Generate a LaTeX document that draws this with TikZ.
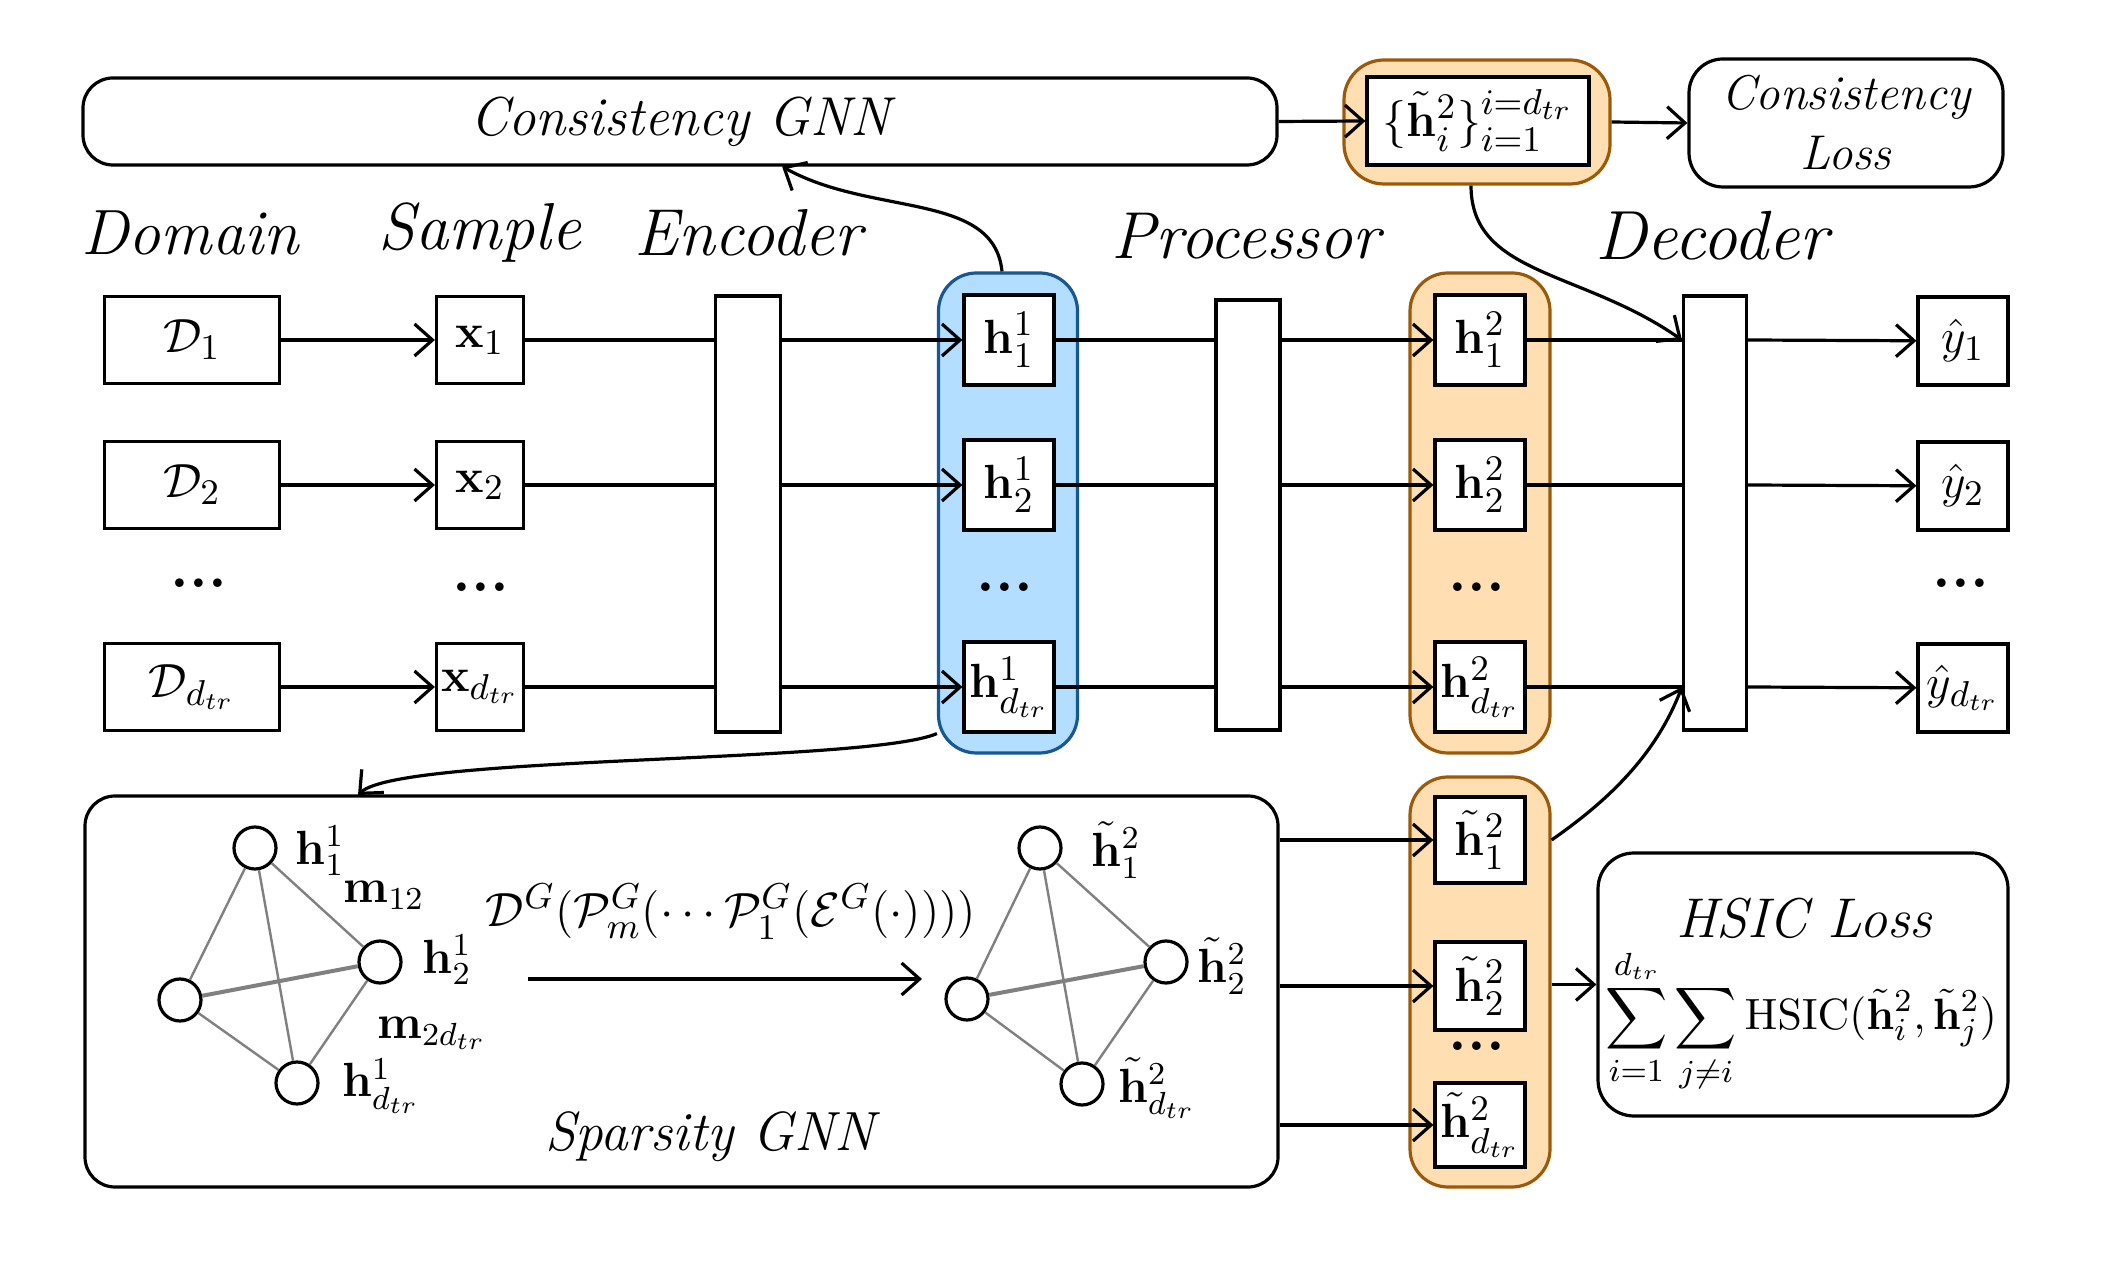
\documentclass[tikz,border=0pt]{standalone}
\usepackage{amsmath,amssymb}
\usetikzlibrary{arrows.meta,calc}
\definecolor{bfill}{RGB}{179,222,255}
\definecolor{bdraw}{RGB}{22,88,148}
\definecolor{ofill}{RGB}{255,222,178}
\definecolor{odraw}{RGB}{155,90,10}
\newcommand{\fsz}[1]{\fontsize{#1}{#1}\selectfont}
\begin{document}
\begin{tikzpicture}[x=0.25pt,y=-0.25pt,
  box/.style={draw, line width=0.8pt, fill=white, inner sep=0pt, font=\fsz{12.5}},
  hbox/.style={box, minimum width=22.5pt, minimum height=22.5pt},
  xbox/.style={box, minimum width=21.75pt, minimum height=21.75pt},
  dbox/.style={box, minimum width=43.75pt, minimum height=21.75pt},
  bar/.style={draw, line width=0.8pt, fill=white, inner sep=0pt},
  rbox/.style={draw, line width=0.8pt, fill=white, rounded corners=7.5pt, inner sep=0pt},
  bcol/.style={draw=bdraw, fill=bfill, line width=0.8pt, rounded corners=9.5pt, minimum width=34.75pt, inner sep=0pt},
  ocol/.style={draw=odraw, fill=ofill, line width=0.8pt, rounded corners=9.5pt, minimum width=35pt, inner sep=0pt},
  stage/.style={font=\fsz{16.6}\itshape, inner sep=0pt},
  arr/.style={line width=0.8pt, -{Straight Barb[length=4.5pt,width=8pt,line width=0.8pt]}},
  ln/.style={line width=0.8pt},
  gnode/.style={circle, draw, line width=0.8pt, fill=white, minimum size=10.5pt, inner sep=0pt},
  gedge/.style={draw=gray, line width=0.6pt},
  gthick/.style={draw=gray, line width=1pt},
  glab/.style={font=\fsz{12}, inner sep=0pt},
  dotsn/.style={font=\fsz{15}\bfseries, inner sep=0pt}
]
\useasboundingbox (0,0) rectangle (2108,1270);

% ---------- top row ----------
\node[rbox, minimum width=298.5pt, minimum height=21.75pt, font=\fsz{13.7}\itshape] (cgnn) at (680,121.5) {Consistency GNN};
\node[ocol, minimum width=66.5pt, minimum height=31pt, rounded corners=10pt] (hsetbg) at (1477,122) {};
\node[box, minimum width=55.5pt, minimum height=22pt, font=\fsz{13.2}] (hset) at (1478,121) {$\{\tilde{\mathbf{h}}_i^2\}_{i=1}^{i=d_{tr}}$};
\node[rbox, minimum width=78.5pt, minimum height=32pt, rounded corners=8.5pt, align=center, font=\fontsize{12.2}{15}\selectfont\itshape] (closs) at (1846,123) {Consistency\\Loss};

% ---------- stage labels ----------
\node[stage, font=\fsz{16}\itshape] (lDom) at (190,233) {Domain};
\node[stage] (lSam) at (480,233) {Sample};
\node[stage] (lEnc) at (748,233) {Encoder};
\node[stage] (lPro) at (1246,236) {Processor};
\node[stage, font=\fsz{17.4}\itshape] (lDec) at (1712,236) {Decoder};

% ---------- columns ----------
\node[bcol, minimum height=120pt] (blue) at (1008,513) {};
\node[ocol, minimum height=120pt] (ocol) at (1480,513) {};
\node[ocol, minimum height=102.5pt] (tcol) at (1480,982) {};

% ---------- bars ----------
\node[bar, minimum width=16.25pt, minimum height=109pt] (enc) at (748,514) {};
\node[bar, minimum width=16pt, minimum height=107.5pt] (proc) at (1248,515) {};
\node[bar, minimum width=15.75pt, minimum height=108.5pt] (dec) at (1715,513) {};

% ---------- rows ----------
\node[dbox] (D1) at (192,340) {$\mathcal{D}_1$};
\node[dbox] (D2) at (192,485) {$\mathcal{D}_2$};
\node[dbox] (Dd) at (192,687) {$\mathcal{D}_{d_{tr}}$};
\node[xbox] (x1) at (480,340) {$\mathbf{x}_1$};
\node[xbox] (x2) at (480,485) {$\mathbf{x}_2$};
\node[xbox] (xd) at (480,687) {$\mathbf{x}_{d_{tr}}$};
\node[hbox] (h11) at (1009,340) {$\mathbf{h}_1^1$};
\node[hbox] (h12) at (1009,485) {$\mathbf{h}_2^1$};
\node[hbox] (h1d) at (1009,687) {$\mathbf{h}_{d_{tr}}^1$};
\node[hbox] (h21) at (1480,340) {$\mathbf{h}_1^2$};
\node[hbox] (h22) at (1480,485) {$\mathbf{h}_2^2$};
\node[hbox] (h2d) at (1480,687) {$\mathbf{h}_{d_{tr}}^2$};
\node[hbox, minimum height=22pt] (y1) at (1963,341) {$\hat{y}_1$};
\node[hbox, minimum height=22pt] (y2) at (1963,486) {$\hat{y}_2$};
\node[hbox, minimum height=22pt] (yd) at (1963,688) {$\hat{y}_{d_{tr}}$};

\node[dotsn] (dt1) at (199,583) {...};
\node[dotsn] (dt2) at (481,587) {...};
\node[dotsn] (dt3) at (1005,587) {...};
\node[dotsn] (dt4) at (1477,587) {...};
\node[dotsn] (dt5) at (1961,583) {...};

\foreach \i in {1,2,d}{
  \draw[arr] (D\i) -- (x\i);
  \draw[ln] (x\i) -- (enc.west |- x\i);
  \draw[arr] (enc.east |- x\i) -- (h1\i);
  \draw[ln] (h1\i) -- (proc.west |- h1\i);
  \draw[arr] (proc.east |- h1\i) -- (h2\i);
  \draw[ln] (h2\i) -- (dec.west |- h2\i);
  \draw[arr] (dec.east |- h2\i) -- (y\i);
}

% ---------- sparsity GNN ----------
\node[rbox, minimum width=298.25pt, minimum height=97.75pt] (sgnn) at (681.5,991.5) {};
\node[font=\fsz{13.8}\itshape, inner sep=0pt] (sgl) at (710,1137) {Sparsity GNN};

\node[hbox, minimum height=21.5pt] (t1) at (1480,840) {$\tilde{\mathbf{h}}_1^2$};
\node[hbox, minimum height=22pt] (t2) at (1480,986) {$\tilde{\mathbf{h}}_2^2$};
\node[hbox, minimum height=21pt] (td) at (1480,1125) {$\tilde{\mathbf{h}}_{d_{tr}}^2$};
\node[dotsn] (dt6) at (1477,1046) {...};

\node[rbox, minimum width=102.5pt, minimum height=65.75pt, rounded corners=9pt] (hsic) at (1803,984.5) {};
\node[font=\fsz{14}\itshape, inner sep=0pt] (hsict) at (1804,918) {HSIC Loss};
\node[font=\fsz{10.8}, inner sep=0pt] (hsicf) at (1801,1021) {$\displaystyle\sum_{i=1}^{d_{tr}}\sum_{j\neq i}\mathrm{HSIC}(\tilde{\mathbf{h}}_i^2,\tilde{\mathbf{h}}_j^2)$};

\draw[arr] (sgnn.east |- t1) -- (t1);
\draw[arr] (sgnn.east |- t2) -- (t2);
\draw[arr] (sgnn.east |- td) -- (td);
\draw[arr] (tcol.east |- hsic.west) -- (hsic.west);

% left graph
\node[gnode] (a1) at (255,848) {};
\node[gnode] (a2) at (380,962) {};
\node[gnode] (a0) at (180,1000) {};
\node[gnode] (a3) at (297,1083) {};
% right graph
\node[gnode] (b1) at (1040,848) {};
\node[gnode] (b2) at (1166,962) {};
\node[gnode] (b0) at (967,999) {};
\node[gnode] (b3) at (1082,1084) {};

\foreach \g in {a,b}{
  \draw[gedge] (\g1) -- (\g0);
  \draw[gedge] (\g1) -- (\g3);
  \draw[gedge] (\g1) -- (\g2);
  \draw[gthick] (\g0) -- (\g2);
  \draw[gedge] (\g0) -- (\g3);
  \draw[gedge] (\g2) -- (\g3);
}

\node[glab] (la1) at (320,851) {$\mathbf{h}_1^1$};
\node[glab] (lm12) at (384,895) {$\mathbf{m}_{12}$};
\node[glab] (la2) at (447,960) {$\mathbf{h}_2^1$};
\node[glab] (lm2d) at (432,1033) {$\mathbf{m}_{2d_{tr}}$};
\node[glab] (la3) at (381,1086) {$\mathbf{h}_{d_{tr}}^1$};
\node[glab] (lb1) at (1116,850) {$\tilde{\mathbf{h}}_1^2$};
\node[glab] (lb2) at (1222,966) {$\tilde{\mathbf{h}}_2^2$};
\node[glab] (lb3) at (1157,1088) {$\tilde{\mathbf{h}}_{d_{tr}}^2$};

\coordinate (ga1) at (528,979);
\coordinate (ga2) at (922,979);
\draw[arr] (ga1) -- (ga2);
\node[font=\fsz{12.3}, inner sep=0pt] (gal) at (731,912) {$\mathcal{D}^G(\mathcal{P}_m^G(\cdots\mathcal{P}_1^G(\mathcal{E}^G(\cdot))))$};

% ---------- top connectors ----------
\draw[arr] (cgnn.east) -- (hset.west);
\draw[arr] (hsetbg.east) -- (closs.west);
\draw[arr] ([xshift=-1.5pt]hsetbg.south) .. controls +(0,90) and +(-100,-70) .. (dec.west |- h21);
\draw[arr] ([xshift=-1.5pt]blue.north) .. controls +(-8,-80) and +(90,50) .. (cgnn.south -| enc.east);
\coordinate (sgin) at (358,795);
\draw[arr] (blue.west |- h1d.south) .. controls +(-70,30) and +(42,-40) .. (sgin);
\draw[arr] (tcol.east |- t1) .. controls +(50,-35) and +(-28,73) .. (dec.west |- h2d);

\end{tikzpicture}
\end{document}
